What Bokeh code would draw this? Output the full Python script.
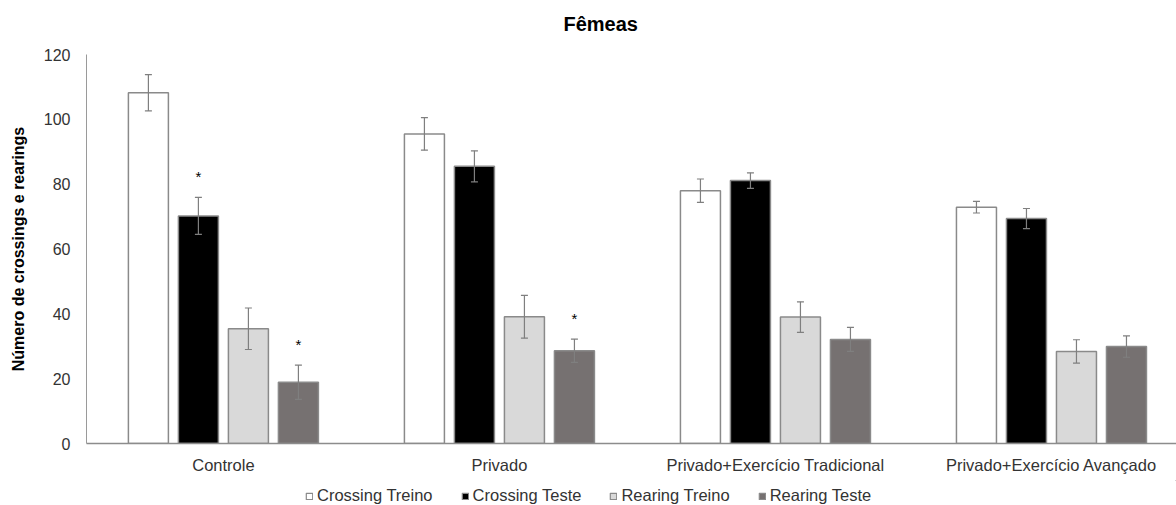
from bokeh.plotting import figure
from bokeh.models import (ColumnDataSource, Range1d, FixedTicker, Whisker, TeeHead,
                          Legend, LegendItem)
from bokeh.layouts import column
from bokeh.core.properties import value
from bokeh.embed import file_html
from bokeh.resources import INLINE

# ---- data ----
title_text = "Fêmeas"
groups = ["Controle", "Privado", "Privado+Exercício Tradicional", "Privado+Exercício Avançado"]
series = ["Crossing Treino", "Crossing Teste", "Rearing Treino", "Rearing Teste"]
crossing_treino = [108.2, 95.5, 78.0, 72.9]
crossing_treino_err = [5.6, 5.0, 3.6, 1.8]
crossing_teste = [70.2, 85.5, 81.1, 69.4]
crossing_teste_err = [5.7, 4.8, 2.4, 3.1]
rearing_treino = [35.4, 39.1, 39.0, 28.4]
rearing_treino_err = [6.4, 6.6, 4.7, 3.6]
rearing_teste = [18.9, 28.6, 32.1, 29.9]
rearing_teste_err = [5.3, 3.6, 3.7, 3.3]
# significance markers (1 = "*")
crossing_treino_sig = [0, 0, 0, 0]
crossing_teste_sig = [1, 0, 0, 0]
rearing_treino_sig = [0, 0, 0, 0]
rearing_teste_sig = [1, 1, 0, 0]
y_ticks = [0, 20, 40, 60, 80, 100, 120]

# ---- styles ----
fills = ["#ffffff", "#000000", "#d9d9d9", "#767171"]
outline = "#8a8a8a"
err_color = "#7f7f7f"
FONT = "Liberation Sans"
text_color = "#333333"

bar_w = 40 / 276.0
offsets = [-75 / 276.0, -25 / 276.0, 25 / 276.0, 75 / 276.0]

# ---- title strip ----
tt = figure(width=1176, height=44, output_backend="svg", toolbar_location=None,
            x_range=Range1d(0, 1), y_range=Range1d(0, 1),
            x_axis_location=None, y_axis_location=None,
            min_border_left=86, min_border_right=0, min_border_top=40, min_border_bottom=0)
tt.outline_line_color = None
tt.grid.grid_line_color = None
tt.title.text = title_text
tt.title.text_font = FONT
tt.title.text_font_size = "20px"
tt.title.text_font_style = "bold"
tt.title.text_color = "#000000"
tt.title.align = "left"
tt.title.offset = 477
tt.title.standoff = 12

# ---- main chart ----
p = figure(width=1176, height=436, output_backend="svg", toolbar_location=None,
           x_range=Range1d(-0.496, 3.453), y_range=Range1d(0, 120),
           min_border_left=86, min_border_right=0, min_border_bottom=37,
           min_border_top=10)
p.outline_line_color = None
p.grid.grid_line_color = None
p.background_fill_color = "white"

data_sets = [
    (crossing_treino, crossing_treino_err, crossing_treino_sig),
    (crossing_teste, crossing_teste_err, crossing_teste_sig),
    (rearing_treino, rearing_treino_err, rearing_treino_sig),
    (rearing_teste, rearing_teste_err, rearing_teste_sig),
]

sources = []
for i, (vals, errs, sig) in enumerate(data_sets):
    xs = [g + offsets[i] for g in range(len(groups))]
    src = ColumnDataSource(dict(
        x=xs, top=vals,
        upper=[v + e for v, e in zip(vals, errs)],
        lower=[v - e for v, e in zip(vals, errs)],
    ))
    sources.append(src)
    p.vbar(x="x", top="top", width=bar_w, bottom=0, source=src,
           fill_color=fills[i], line_color=outline, line_width=1.5)
    w = Whisker(base="x", upper="upper", lower="lower", source=src, level="overlay",
                line_color=err_color, line_width=1.2,
                upper_head=TeeHead(size=7, line_color=err_color, line_width=1.2),
                lower_head=TeeHead(size=7, line_color=err_color, line_width=1.2))
    p.add_layout(w)
    sx = [x for x, s in zip(xs, sig) if s]
    sy = [v + e for v, e, s in zip(vals, errs, sig) if s]
    if sx:
        p.text(x=sx, y=sy, text=["*"] * len(sx), text_align="center",
               text_baseline="alphabetic", y_offset=-21,
               text_font=value(FONT), text_font_size="15px", text_color="#000000")

# axes
p.xaxis.ticker = FixedTicker(ticks=list(range(len(groups))))
p.xaxis.major_label_overrides = {i: g for i, g in enumerate(groups)}
p.xaxis.major_tick_line_color = None
p.xaxis.major_tick_out = 0
p.xaxis.major_tick_in = 0
p.xaxis.minor_tick_line_color = None
p.xaxis.axis_line_color = "#8c8c8c"
p.xaxis.axis_line_width = 1.5
p.xaxis.major_label_text_font = FONT
p.xaxis.major_label_text_font_size = "16.5px"
p.xaxis.major_label_text_color = text_color
p.xaxis.major_label_standoff = 12

p.yaxis.ticker = FixedTicker(ticks=y_ticks)
p.yaxis.major_tick_line_color = None
p.yaxis.major_tick_out = 0
p.yaxis.major_tick_in = 0
p.yaxis.minor_tick_line_color = None
p.yaxis.axis_line_color = "#9a9a9a"
p.yaxis.axis_line_width = 1
p.yaxis.major_label_text_font = FONT
p.yaxis.major_label_text_font_size = "16px"
p.yaxis.major_label_text_color = text_color
p.yaxis.major_label_standoff = 16
p.yaxis.axis_label = "Número de crossings e rearings"
p.yaxis.axis_label_text_font = FONT
p.yaxis.axis_label_text_font_size = "16px"
p.yaxis.axis_label_text_font_style = "bold"
p.yaxis.axis_label_text_color = "#000000"
p.yaxis.axis_label_standoff = 14

# ---- legend strip below the chart (bars out of view; only the legend shows) ----
lg = figure(width=1176, height=25, output_backend="svg", toolbar_location=None,
            x_range=Range1d(-20, -19), y_range=Range1d(-20, -19),
            x_axis_location=None, y_axis_location=None,
            min_border_left=0, min_border_right=0, min_border_top=0, min_border_bottom=0)
lg.outline_line_color = None
lg.grid.grid_line_color = None
legend_renderers = []
for i, src in enumerate(sources):
    r = lg.vbar(x="x", top="top", width=bar_w, bottom=0, source=src,
                fill_color=fills[i], line_color=outline, line_width=1.2)
    legend_renderers.append(r)
legend = Legend(items=[LegendItem(label=s, renderers=[r]) for s, r in zip(series, legend_renderers)],
                orientation="horizontal", location=(219, 0),
                glyph_width=8, glyph_height=8, label_standoff=4, spacing=28,
                padding=0, margin=0, border_line_color=None,
                background_fill_alpha=0,
                label_text_font=FONT, label_text_font_size="16.5px",
                label_text_color=text_color, label_height=18)
lg.add_layout(legend, "center")

open("out.html", "w").write(file_html(column(tt, p, lg, spacing=0), INLINE))
